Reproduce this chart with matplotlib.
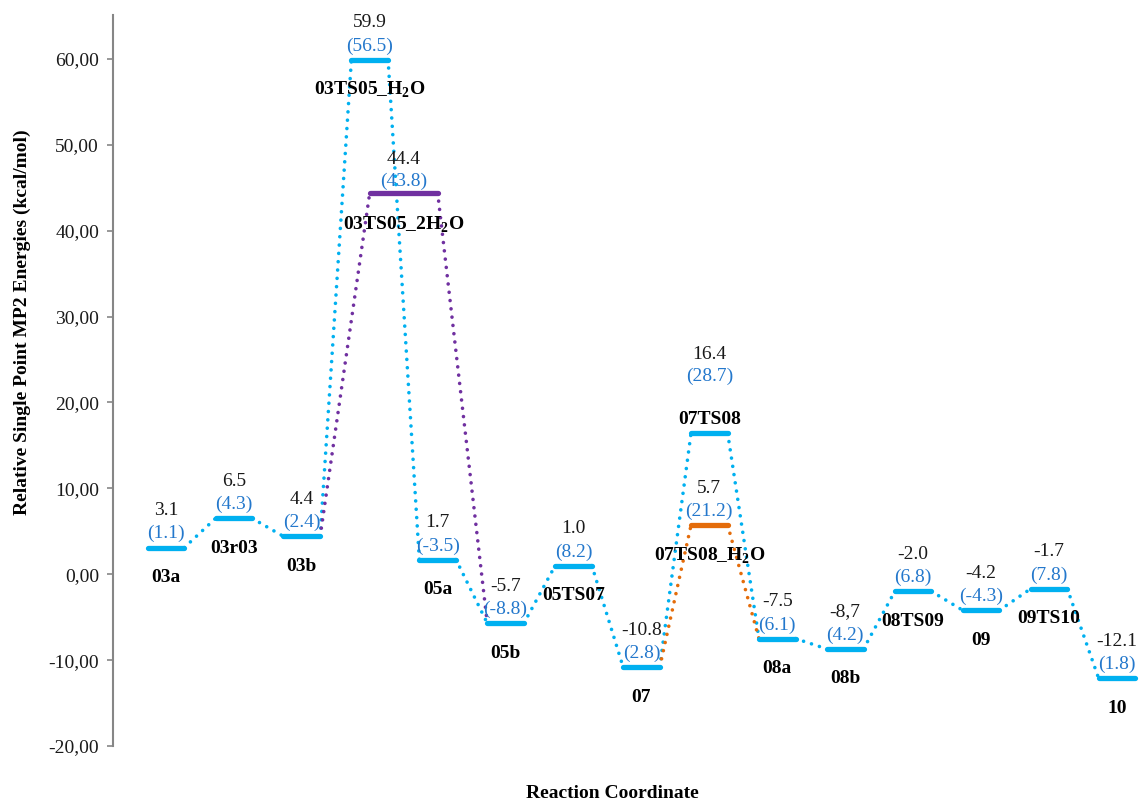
import matplotlib
matplotlib.use('Agg')
import matplotlib.pyplot as plt
from matplotlib.ticker import FuncFormatter

plt.rcParams['font.family'] = ['Liberation Serif', 'DejaVu Serif']
plt.rcParams['mathtext.fontset'] = 'custom'
plt.rcParams['mathtext.rm'] = 'Liberation Serif:bold'
plt.rcParams['mathtext.bf'] = 'Liberation Serif:bold'

# main pathway (one level per reaction step)
names = ['03a', '03r03', '03b', '03TS05_H$_2$O', '05a', '05b', '05TS07', '07',
         '07TS08', '08a', '08b', '08TS09', '09', '09TS10', '10']
energies = [3.1, 6.5, 4.4, 59.9, 1.7, -5.7, 1.0, -10.8,
            16.4, -7.5, -8.7, -2.0, -4.2, -1.7, -12.1]
energy_labels = ['3.1', '6.5', '4.4', '59.9', '1.7', '-5.7', '1.0', '-10.8',
                 '16.4', '-7.5', '-8,7', '-2.0', '-4.2', '-1.7', '-12.1']
paren_values = [1.1, 4.3, 2.4, 56.5, -3.5, -8.8, 8.2, 2.8,
                28.7, 6.1, 4.2, 6.8, -4.3, 7.8, 1.8]

# alternative transition states
ts_2h2o_name = '03TS05_2H$_2$O'
ts_2h2o_energy = 44.4
ts_2h2o_paren = 43.8
ts_0708_h2o_name = '07TS08_H$_2$O'
ts_0708_h2o_energy = 5.7
ts_0708_h2o_paren = 21.2

blue = '#00B0F0'
paren_blue = '#2478CC'
purple = '#7030A0'
orange = '#E46C0A'
hw = 0.27   # half width of a level bar

fig = plt.figure(figsize=(11.4, 8), dpi=100)
ax = fig.add_axes([113 / 1140, 54 / 800, 1027 / 1140, 731 / 800])


def level(x0, x1, y, color):
    ax.plot([x0, x1], [y, y], color=color, lw=3.8, solid_capstyle='round', zorder=3)


def link(xa, ya, xb, yb, color):
    ax.plot([xa, xb], [ya, yb], color=color, lw=2.6,
            linestyle=(0, (0.01, 2.3)), dash_capstyle='round', zorder=2)


def labels(x, y, top, paren, name, d_top=4.3, d_par=1.6, d_name=-3.5):
    ax.text(x, y + d_top, top, ha='center', va='center', fontsize=14, color='#1a1a1a', zorder=4)
    ax.text(x, y + d_par, '(%.1f)' % paren, ha='center', va='center', fontsize=14,
            color=paren_blue, zorder=4)
    ax.text(x, y + d_name, name, ha='center', va='center', fontsize=14,
            fontweight='bold', color='black', zorder=4)


# main path
for i in range(len(energies)):
    level(i - hw, i + hw, energies[i], blue)
    if i < len(energies) - 1:
        link(i + hw, energies[i], i + 1 - hw, energies[i + 1], blue)
    if names[i] == '07TS08':
        labels(i, energies[i], energy_labels[i], paren_values[i], names[i],
               d_top=9.2, d_par=6.6, d_name=1.6)
    else:
        labels(i, energies[i], energy_labels[i], paren_values[i], names[i])

# 03TS05 with two waters (purple)
i3b = names.index('03b')
i5b = names.index('05b')
level(3.0, 4.0, ts_2h2o_energy, purple)
link(i3b + hw, energies[i3b], 3.0, ts_2h2o_energy, purple)
link(4.0, ts_2h2o_energy, i5b - hw, energies[i5b], purple)
labels(3.5, ts_2h2o_energy, '%.1f' % ts_2h2o_energy, ts_2h2o_paren, ts_2h2o_name,
       d_top=3.9, d_par=1.3, d_name=-3.7)

# 07TS08 with one water (orange)
i7 = names.index('07')
i8a = names.index('08a')
its = names.index('07TS08')
level(its - hw, its + hw, ts_0708_h2o_energy, orange)
link(i7 + hw, energies[i7], its - hw, ts_0708_h2o_energy, orange)
link(its + hw, ts_0708_h2o_energy, i8a - hw, energies[i8a], orange)
labels(its, ts_0708_h2o_energy, '%.1f' % ts_0708_h2o_energy, ts_0708_h2o_paren,
       ts_0708_h2o_name, d_name=-3.6)

ax.set_xlim(-0.78, 14.34)
ax.set_ylim(-20, 65.1)
ax.set_yticks(range(-20, 61, 10))
ax.yaxis.set_major_formatter(FuncFormatter(lambda v, p: ('%.2f' % v).replace('.', ',')))
ax.tick_params(axis='y', labelsize=14, length=4, width=1.2, color='#868686',
               labelcolor='#1a1a1a', pad=6)
ax.set_xticks([])
for s in ['top', 'right', 'bottom']:
    ax.spines[s].set_visible(False)
ax.spines['left'].set_color('#868686')
ax.spines['left'].set_linewidth(1.5)
ax.patch.set_alpha(0)

fig.text(22 / 1140, 1 - 322 / 800, 'Relative Single Point MP2 Energies (kcal/mol)',
         rotation=90, ha='center', va='center', fontsize=14, fontweight='bold')
fig.text(612 / 1140, 1 - 793 / 800, 'Reaction Coordinate', ha='center', va='center',
         fontsize=14, fontweight='bold')

fig.savefig('out.png', dpi=100)
